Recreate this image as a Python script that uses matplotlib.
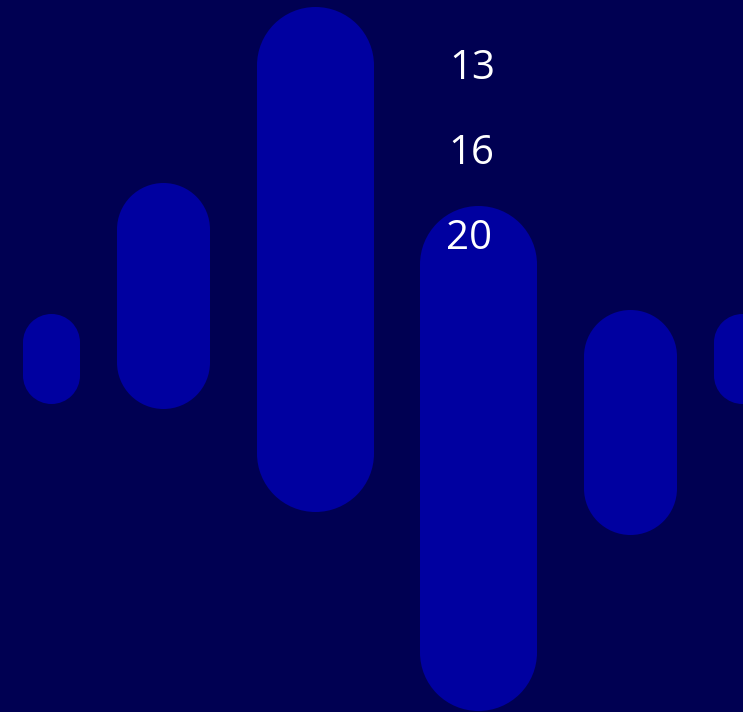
import matplotlib.pyplot as plt
from matplotlib.patches import Circle, Rectangle


# pill geometry (pixel units, y grows downward)
pill_left = [23, 117, 257, 420, 584, 714]
pill_width = [57, 93, 117, 117, 93, 57]
pill_top = [314, 183, 7, 206, 310, 314]
pill_bottom = [404, 409, 512, 711, 535, 404]

labels = ['13', '16', '20']
label_x = [472, 471, 469]
label_y = [69, 154, 239]

background = '#000052'
pill_color = '#0000A0'


fig = plt.figure(figsize = (7.43, 7.12), dpi = 100, facecolor = background)
ax = fig.add_axes([0, 0, 1, 1])
ax.set_facecolor(background)
ax.set_xlim(0, 743)
ax.set_ylim(712, 0)
ax.set_aspect('auto')
ax.set_axis_off()

# each pill = straight middle part + half circle caps
for left, width, top, bottom in zip(pill_left, pill_width, pill_top, pill_bottom):
    r = width / 2
    cx = left + r
    ax.add_patch(Rectangle((left, top + r), width, bottom - top - width,
                           linewidth = 0, facecolor = pill_color, zorder = 1))
    ax.add_patch(Circle((cx, top + r), r, linewidth = 0, facecolor = pill_color, zorder = 1))
    ax.add_patch(Circle((cx, bottom - r), r, linewidth = 0, facecolor = pill_color, zorder = 1))

for text, x, y in zip(labels, label_x, label_y):
    ax.text(x, y, text, color = 'white', fontsize = 29, family = ['Open Sans', 'DejaVu Sans'],
            horizontalalignment = 'center', verticalalignment = 'center', zorder = 2)

fig.savefig('out.png', dpi = 100, facecolor = background)
